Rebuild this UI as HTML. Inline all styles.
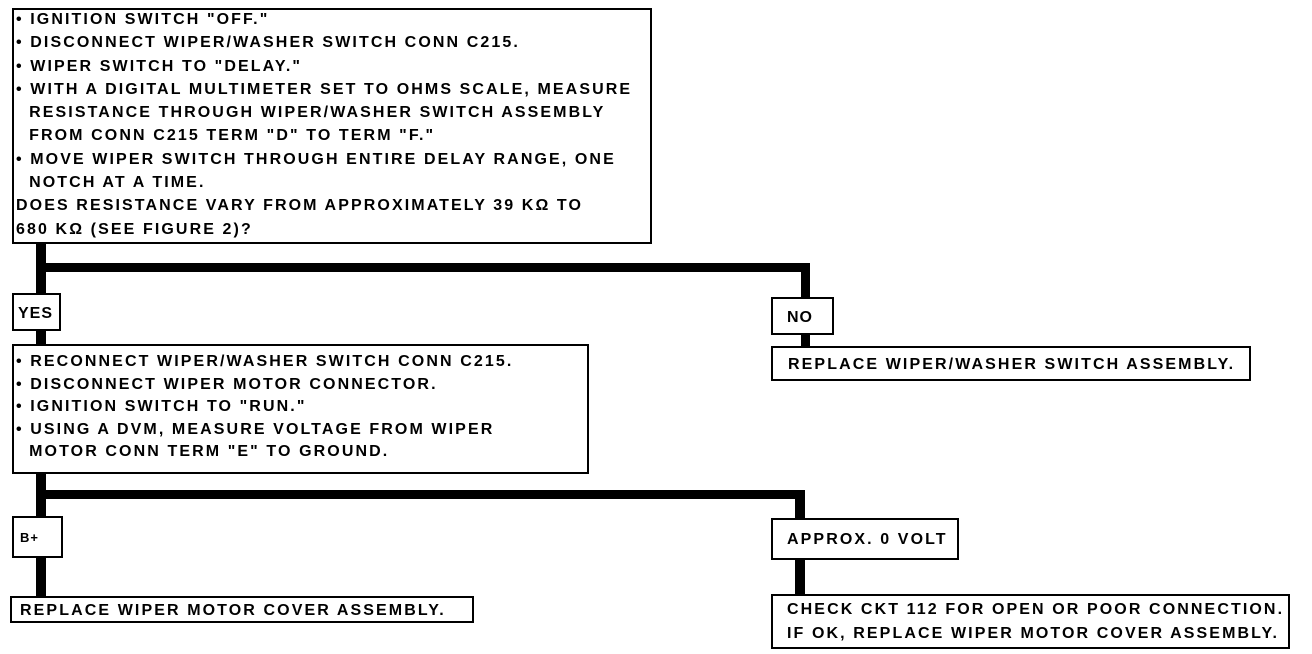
<!DOCTYPE html>
<html><head><meta charset="utf-8"><style>
body{margin:0;background:#fff;width:1312px;height:654px;position:relative;overflow:hidden;font-family:"Liberation Sans",Arial,sans-serif;font-weight:bold;color:#000}
.b{position:absolute;border:2px solid #000;box-sizing:border-box;background:#fff}
.t{position:absolute;font-size:16px;letter-spacing:2.1px;white-space:pre;line-height:23.3px}
.l{position:absolute;background:#000}
</style></head><body>
<div class="l" style="left:36px;top:243px;width:10px;height:50px"></div>
<div class="l" style="left:36px;top:263px;width:773px;height:9px"></div>
<div class="l" style="left:801px;top:263px;width:9px;height:36px"></div>
<div class="l" style="left:801px;top:333px;width:9px;height:14px"></div>
<div class="l" style="left:36px;top:329px;width:10px;height:16px"></div>
<div class="l" style="left:36px;top:472px;width:10px;height:45px"></div>
<div class="l" style="left:36px;top:490px;width:769px;height:9px"></div>
<div class="l" style="left:795px;top:490px;width:10px;height:30px"></div>
<div class="l" style="left:795px;top:558px;width:10px;height:38px"></div>
<div class="l" style="left:36px;top:556px;width:10px;height:42px"></div>

<div class="b" style="left:12px;top:8px;width:640px;height:236px"></div>
<div class="t" style="left:16px;top:8px">• IGNITION SWITCH "OFF."
• DISCONNECT WIPER/WASHER SWITCH CONN C215.
• WIPER SWITCH TO "DELAY."
• WITH A DIGITAL MULTIMETER SET TO OHMS SCALE, MEASURE
  RESISTANCE THROUGH WIPER/WASHER SWITCH ASSEMBLY
  FROM CONN C215 TERM "D" TO TERM "F."
• MOVE WIPER SWITCH THROUGH ENTIRE DELAY RANGE, ONE
  NOTCH AT A TIME.
DOES RESISTANCE VARY FROM APPROXIMATELY 39 KΩ TO
680 KΩ (SEE FIGURE 2)?</div>

<div class="b" style="left:12px;top:293px;width:49px;height:38px"></div>
<div class="t" style="left:18px;top:302px;letter-spacing:1px">YES</div>

<div class="b" style="left:771px;top:297px;width:63px;height:38px"></div>
<div class="t" style="left:787px;top:306px;letter-spacing:1px">NO</div>

<div class="b" style="left:771px;top:346px;width:480px;height:35px"></div>
<div class="t" style="left:788px;top:353px">REPLACE WIPER/WASHER SWITCH ASSEMBLY.</div>

<div class="b" style="left:12px;top:344px;width:577px;height:130px"></div>
<div class="t" style="left:16px;top:351px;line-height:22.5px">• RECONNECT WIPER/WASHER SWITCH CONN C215.
• DISCONNECT WIPER MOTOR CONNECTOR.
• IGNITION SWITCH TO "RUN."
• USING A DVM, MEASURE VOLTAGE FROM WIPER
  MOTOR CONN TERM "E" TO GROUND.</div>

<div class="b" style="left:12px;top:516px;width:51px;height:42px"></div>
<div class="t" style="left:20px;top:526px;font-size:13px;letter-spacing:1px">B+</div>

<div class="b" style="left:771px;top:518px;width:188px;height:42px"></div>
<div class="t" style="left:787px;top:528px">APPROX. 0 VOLT</div>

<div class="b" style="left:10px;top:596px;width:464px;height:27px"></div>
<div class="t" style="left:20px;top:599px">REPLACE WIPER MOTOR COVER ASSEMBLY.</div>

<div class="b" style="left:771px;top:594px;width:519px;height:55px"></div>
<div class="t" style="left:787px;top:598px;line-height:24px">CHECK CKT 112 FOR OPEN OR POOR CONNECTION.
IF OK, REPLACE WIPER MOTOR COVER ASSEMBLY.</div>
</body></html>
